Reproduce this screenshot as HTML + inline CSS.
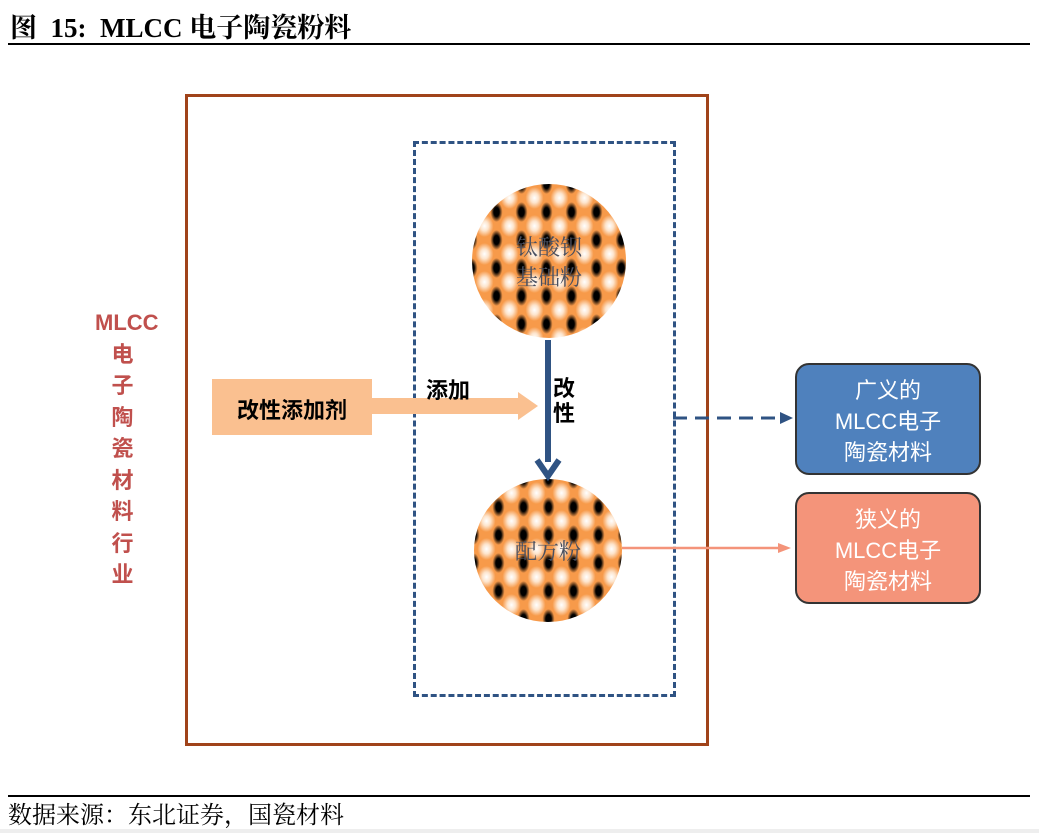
<!DOCTYPE html>
<html><head><meta charset="utf-8"><style>
body{margin:0;width:1039px;height:833px;background:#fff;position:relative;overflow:hidden;font-family:"Liberation Sans","Noto Sans CJK SC",sans-serif}
.a{position:absolute}
.circ{position:absolute;border-radius:50%;background-color:#f79a4a;
background-image:radial-gradient(ellipse 6px 10px at 50% 50%,#000 0,#000 45%,rgba(0,0,0,0) 100%),
radial-gradient(ellipse 9px 11px at 50% 50%,#fff 0,#fde4cc 45%,rgba(247,154,74,0) 100%);
background-size:25px 28px,25px 28px;background-position:12px 14px,0 0;}
.ct{position:absolute;width:100%;text-align:center;color:#4a5060;font-size:22px;font-family:"Noto Serif CJK SC",serif;line-height:30px}
.box{position:absolute;border-radius:14px;border:2px solid #333;color:#fff;text-align:center;font-size:22px;line-height:31px;box-sizing:border-box;padding-top:10px}
</style></head><body>
<div class="a" style="left:10px;top:6px;font-size:27px;font-weight:bold;font-family:'Liberation Serif','Noto Serif CJK SC',serif">图&nbsp; 15:&nbsp; MLCC 电子陶瓷粉料</div>
<div class="a" style="left:8px;top:43px;width:1022px;height:2px;background:#000"></div>
<div class="a" style="left:185px;top:94px;width:518px;height:646px;border:3px solid #a0431a"></div>
<div class="a" style="left:413px;top:141px;width:257px;height:550px;border:3px dashed #2f5383"></div>
<div class="a" style="left:95px;top:307px;width:55px;text-align:center;color:#c0504d;font-weight:bold;font-size:22px;line-height:31.5px">MLCC<br>电<br>子<br>陶<br>瓷<br>材<br>料<br>行<br>业</div>
<div class="circ" style="left:472px;top:184px;width:154px;height:154px"><div class="ct" style="top:48px">钛酸钡<br>基础粉</div></div>
<div class="circ" style="left:474px;top:479px;width:148px;height:143px"><div class="ct" style="top:57px">配方粉</div></div>
<div class="a" style="left:212px;top:379px;width:160px;height:56px;background:#fac090"></div>
<div class="a" style="left:212px;top:393px;width:160px;text-align:center;font-weight:bold;font-size:22px">改性添加剂</div>
<div class="a" style="left:372px;top:398px;width:150px;height:16px;background:#fac090"></div>
<svg class="a" style="left:0;top:0" width="1039" height="833">
<polygon points="518,392 538,406 518,420" fill="#fac090"/>
<line x1="548" y1="340" x2="548" y2="462" stroke="#2f5383" stroke-width="6"/>
<polyline points="537,460 548,476 559,460" fill="none" stroke="#2f5383" stroke-width="6"/>
<line x1="673" y1="418" x2="785" y2="418" stroke="#2f5383" stroke-width="3" stroke-dasharray="14,8"/>
<polygon points="780,412 793,418 780,424" fill="#2f5383"/>
<line x1="622" y1="548" x2="783" y2="548" stroke="#f4947a" stroke-width="2.5"/>
<polygon points="778,543 791,548 778,553" fill="#f4947a"/>
</svg>
<div class="a" style="left:426px;top:373px;font-weight:bold;font-size:22px">添加</div>
<div class="a" style="left:553px;top:376px;font-weight:bold;font-size:22px;line-height:25px">改<br>性</div>
<div class="box" style="left:795px;top:363px;width:186px;height:112px;background:#4f81bd">广义的<br>MLCC电子<br>陶瓷材料</div>
<div class="box" style="left:795px;top:492px;width:186px;height:112px;background:#f4947a">狭义的<br>MLCC电子<br>陶瓷材料</div>
<div class="a" style="left:8px;top:795px;width:1022px;height:2px;background:#000"></div>
<div class="a" style="left:8px;top:803px;font-size:24px;line-height:26px;font-family:'Liberation Serif','Noto Serif CJK SC',serif">数据来源：东北证券，国瓷材料</div>
<div class="a" style="left:0;top:829px;width:1039px;height:4px;background:#eee"></div>
</body></html>
